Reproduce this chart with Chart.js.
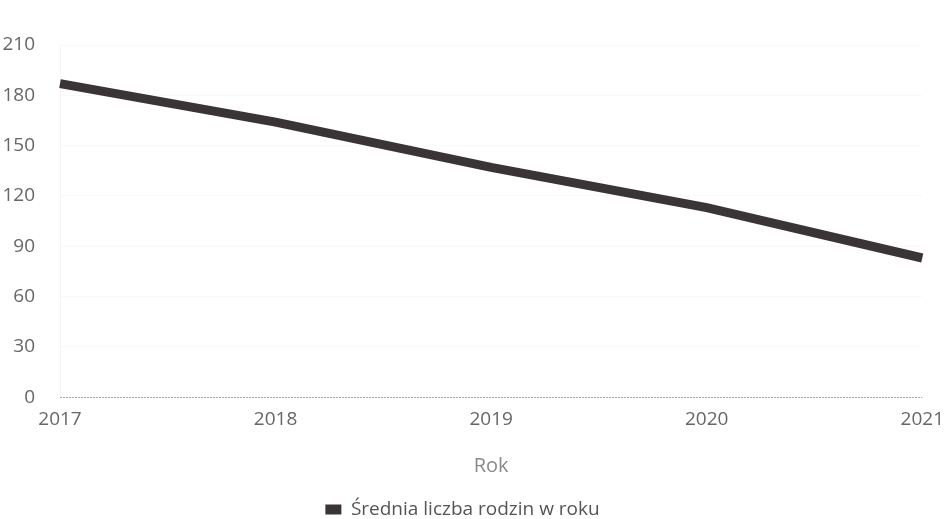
<!DOCTYPE html>
<html>
<head>
<meta charset="utf-8">
<script src="https://cdn.jsdelivr.net/npm/chart.js@4/dist/chart.umd.min.js"></script>
<style>
  html, body { margin: 0; padding: 0; background: #fff; }
  #wrap { width: 947px; height: 519px; position: relative; }
</style>
</head>
<body>
<div id="wrap"><canvas id="chart"></canvas></div>
<script>
// dane
const lata = ['2017', '2018', '2019', '2020', '2021'];
const sredniaRodzin = [187, 164, 137, 113, 83];
const yMin = 0;
const yMax = 210;
const yKrok = 30;

const FONT = '"Open Sans", sans-serif';
const LINE_COLOR = '#3a3437';

// przerywana linia zera
const zeroLine = {
  id: 'zeroLine',
  afterDatasetsDraw(chart) {
    const { ctx, chartArea, scales } = chart;
    const y = Math.round(scales.y.getPixelForValue(0)) + 0.5;
    ctx.save();
    ctx.strokeStyle = '#a8a8a8';
    ctx.lineWidth = 1;
    ctx.setLineDash([2, 1]);
    ctx.beginPath();
    ctx.moveTo(chartArea.left, y);
    ctx.lineTo(chartArea.right, y);
    ctx.stroke();
    ctx.restore();
  }
};

new Chart(document.getElementById('chart'), {
  type: 'line',
  data: {
    labels: lata,
    datasets: [{
      label: 'Średnia liczba rodzin w roku',
      data: sredniaRodzin,
      borderColor: LINE_COLOR,
      backgroundColor: LINE_COLOR,
      borderWidth: 9,
      borderCapStyle: 'butt',
      pointRadius: 0,
      tension: 0,
      fill: false
    }]
  },
  options: {
    responsive: true,
    maintainAspectRatio: false,
    animation: false,
    layout: { padding: { top: 45, right: 22, left: 0, bottom: -10 } },
    plugins: {
      legend: {
        position: 'bottom',
        labels: {
          color: '#555',
          font: { family: FONT, size: 19 },
          boxWidth: 16,
          boxHeight: 10,
          padding: 4,
          generateLabels(chart) {
            const items = Chart.defaults.plugins.legend.labels.generateLabels(chart);
            return items.map(it => Object.assign(it, { lineWidth: 0 }));
          }
        }
      },
      tooltip: { enabled: false }
    },
    scales: {
      x: {
        offset: false,
        border: { display: false },
        grid: { display: false },
        ticks: { color: '#666', font: { family: FONT, size: 19 }, padding: 3, maxRotation: 0 },
        title: { display: true, text: 'Rok', color: '#8a8a8a', font: { family: FONT, size: 20 }, padding: { top: 20, bottom: 18 } }
      },
      y: {
        min: yMin,
        max: yMax,
        afterFit(scale) { scale.width = 60; },
        border: { display: true, color: 'rgba(0,0,0,0.04)' },
        grid: { color: 'rgba(0,0,0,0.025)', drawTicks: false },
        ticks: { stepSize: yKrok, color: '#666', font: { family: FONT, size: 19 }, padding: 25 }
      }
    }
  },
  plugins: [zeroLine]
});
</script>
</body>
</html>
